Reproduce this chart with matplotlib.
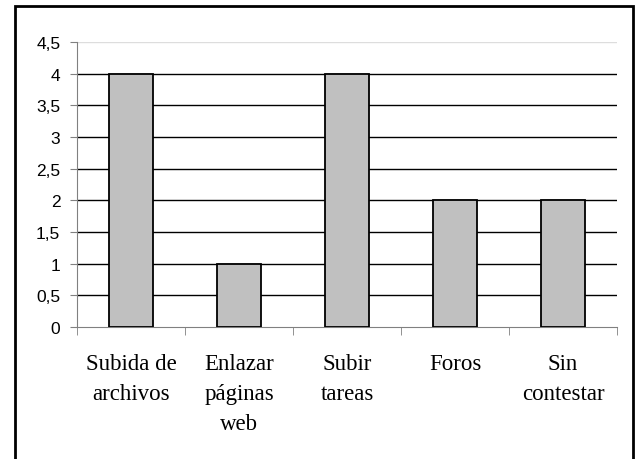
import numpy as np
import matplotlib
matplotlib.use('Agg')
import matplotlib.pyplot as plt
from matplotlib.patches import Rectangle

categorias = ['Subida de\narchivos', 'Enlazar\npáginas\nweb', 'Subir\ntareas', 'Foros', 'Sin\ncontestar']
valores = [4, 1, 4, 2, 2]
yticks = [0, 0.5, 1, 1.5, 2, 2.5, 3, 3.5, 4, 4.5]
ytick_labels = ['0', '0,5', '1', '1,5', '2', '2,5', '3', '3,5', '4', '4,5']

fig = plt.figure(figsize=(6.4, 4.6), dpi=100)
ax = fig.add_axes([77/640, 1-328/460, 540/640, 285/460])

# marco exterior
fig.patches.append(Rectangle((15/640, -10/460), 618/640, 463/460, transform=fig.transFigure,
                             fill=False, edgecolor='black', linewidth=2))

x = np.arange(len(valores))
for y in yticks[1:]:
    ax.axhline(y, color='black' if y < 4.5 else '#dddddd', linewidth=1, zorder=1)
ax.bar(x, valores, width=0.41, color='#c0c0c0', edgecolor='black', linewidth=1.3, zorder=3)

ax.set_xlim(-0.5, len(valores) - 0.5)
ax.set_ylim(0, 4.5)
ax.set_yticks(yticks)
ax.set_yticklabels(ytick_labels, fontsize=12.5, family='Liberation Sans')
ax.set_xticks(x)
ax.set_xticklabels(categorias, fontsize=16.5, family='Liberation Serif', linespacing=1.55)
ax.set_xticks(np.arange(-0.5, len(valores)), minor=True)
ax.tick_params(axis='x', which='major', length=0, pad=19)
ax.tick_params(axis='x', which='minor', length=6, color='#808080')
ax.tick_params(axis='y', length=5, color='#808080', pad=7)

for s in ['top', 'right']:
    ax.spines[s].set_visible(False)
for s in ['left', 'bottom']:
    ax.spines[s].set_color('#808080')

plt.savefig('out.png', dpi=100)
